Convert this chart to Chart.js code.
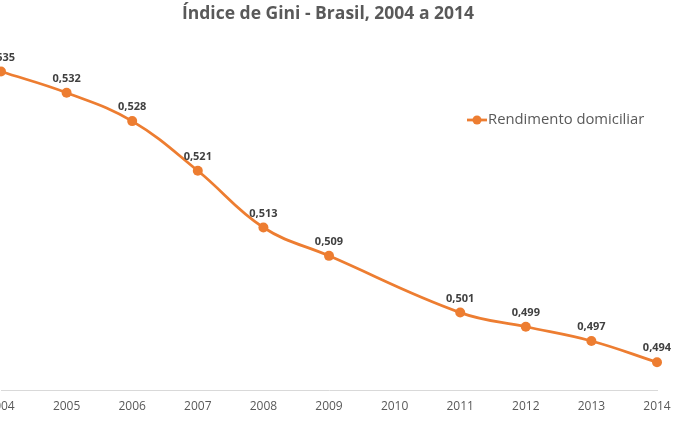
<!DOCTYPE html>
<html>
<head>
<meta charset="utf-8">
<script src="https://cdn.jsdelivr.net/npm/chart.js@4.4.1/dist/chart.umd.min.js"></script>
<style>
    html, body { margin: 0; padding: 0; background: #fff; }
    #wrap { position: relative; width: 690px; height: 431px; overflow: hidden; }
    /* the reference is a crop of a wider chart, so the canvas is wider and shifted left */
    #box { position: absolute; left: -70px; top: 0; width: 760px; height: 431px; }
</style>
</head>
<body>
<div id="wrap"><div id="box"><canvas id="chart"></canvas></div></div>
<script>
// Data (2010 has no value, line spans the gap)
const years = ['2004', '2005', '2006', '2007', '2008', '2009', '2010', '2011', '2012', '2013', '2014'];
const gini = [0.535, 0.532, 0.528, 0.521, 0.513, 0.509, null, 0.501, 0.499, 0.497, 0.494];
const seriesName = 'Rendimento domiciliar';
const chartTitle = 'Índice de Gini - Brasil, 2004 a 2014';

const ORANGE = '#ED7D31';
const FONT = "'Open Sans', sans-serif";

function fmt(v) {
    return v.toFixed(3).replace('.', ',');
}

// Title drawn by hand so it can sit where Excel put it
const titlePlugin = {
    id: 'titlePlugin',
    afterDraw(chart) {
        const ctx = chart.ctx;
        const ca = chart.chartArea;
        ctx.save();
        ctx.font = 'bold 17.5px ' + FONT;
        ctx.fillStyle = '#595959';
        ctx.textAlign = 'center';
        ctx.textBaseline = 'middle';
        ctx.fillText(chartTitle, (ca.left + ca.right) / 2 - 1, 14);
        ctx.restore();
    }
};

// Value labels above each point
const valueLabels = {
    id: 'valueLabels',
    afterDatasetsDraw(chart) {
        const ctx = chart.ctx;
        const meta = chart.getDatasetMeta(0);
        ctx.save();
        ctx.font = 'bold 11px ' + FONT;
        ctx.fillStyle = '#404040';
        ctx.textAlign = 'center';
        ctx.textBaseline = 'middle';
        meta.data.forEach((pt, i) => {
            const v = gini[i];
            if (v === null) return;
            ctx.fillText(fmt(v), pt.x, pt.y - 14);
        });
        ctx.restore();
    }
};

// Legend sits inside the plot, upper right
const insideLegend = {
    id: 'insideLegend',
    afterDraw(chart) {
        const ctx = chart.ctx;
        const ca = chart.chartArea;
        const x0 = ca.right - 190;
        const y = ca.top + 84;
        ctx.save();
        ctx.strokeStyle = ORANGE;
        ctx.lineWidth = 2.75;
        ctx.beginPath();
        ctx.moveTo(x0, y);
        ctx.lineTo(x0 + 20, y);
        ctx.stroke();
        ctx.fillStyle = ORANGE;
        ctx.beginPath();
        ctx.arc(x0 + 10, y, 4.5, 0, Math.PI * 2);
        ctx.fill();
        ctx.font = '14.8px ' + FONT;
        ctx.fillStyle = '#595959';
        ctx.textAlign = 'left';
        ctx.textBaseline = 'middle';
        ctx.fillText(seriesName, x0 + 21, y);
        ctx.restore();
    }
};

new Chart(document.getElementById('chart'), {
    type: 'line',
    data: {
        labels: years,
        datasets: [{
            label: seriesName,
            data: gini,
            borderColor: ORANGE,
            backgroundColor: ORANGE,
            borderWidth: 2.75,
            pointRadius: 5,
            pointHoverRadius: 5,
            pointBorderWidth: 0,
            pointBackgroundColor: ORANGE,
            tension: 0.4,
            spanGaps: true,
            clip: false
        }]
    },
    options: {
        responsive: true,
        maintainAspectRatio: false,
        animation: false,
        layout: { padding: { left: 71, right: 33, top: 36, bottom: 8 } },
        plugins: {
            legend: { display: false },
            tooltip: { enabled: false },
            title: { display: false }
        },
        scales: {
            x: {
                offset: false,
                grid: { display: false, drawTicks: false },
                border: { display: true, color: '#d9d9d9', width: 1 },
                ticks: {
                    color: '#595959',
                    font: { family: FONT, size: 12 },
                    padding: 9,
                    maxRotation: 0,
                    autoSkip: false
                }
            },
            y: {
                display: false,
                min: 0.49,
                max: 0.54
            }
        }
    },
    plugins: [titlePlugin, valueLabels, insideLegend]
});
</script>
</body>
</html>
